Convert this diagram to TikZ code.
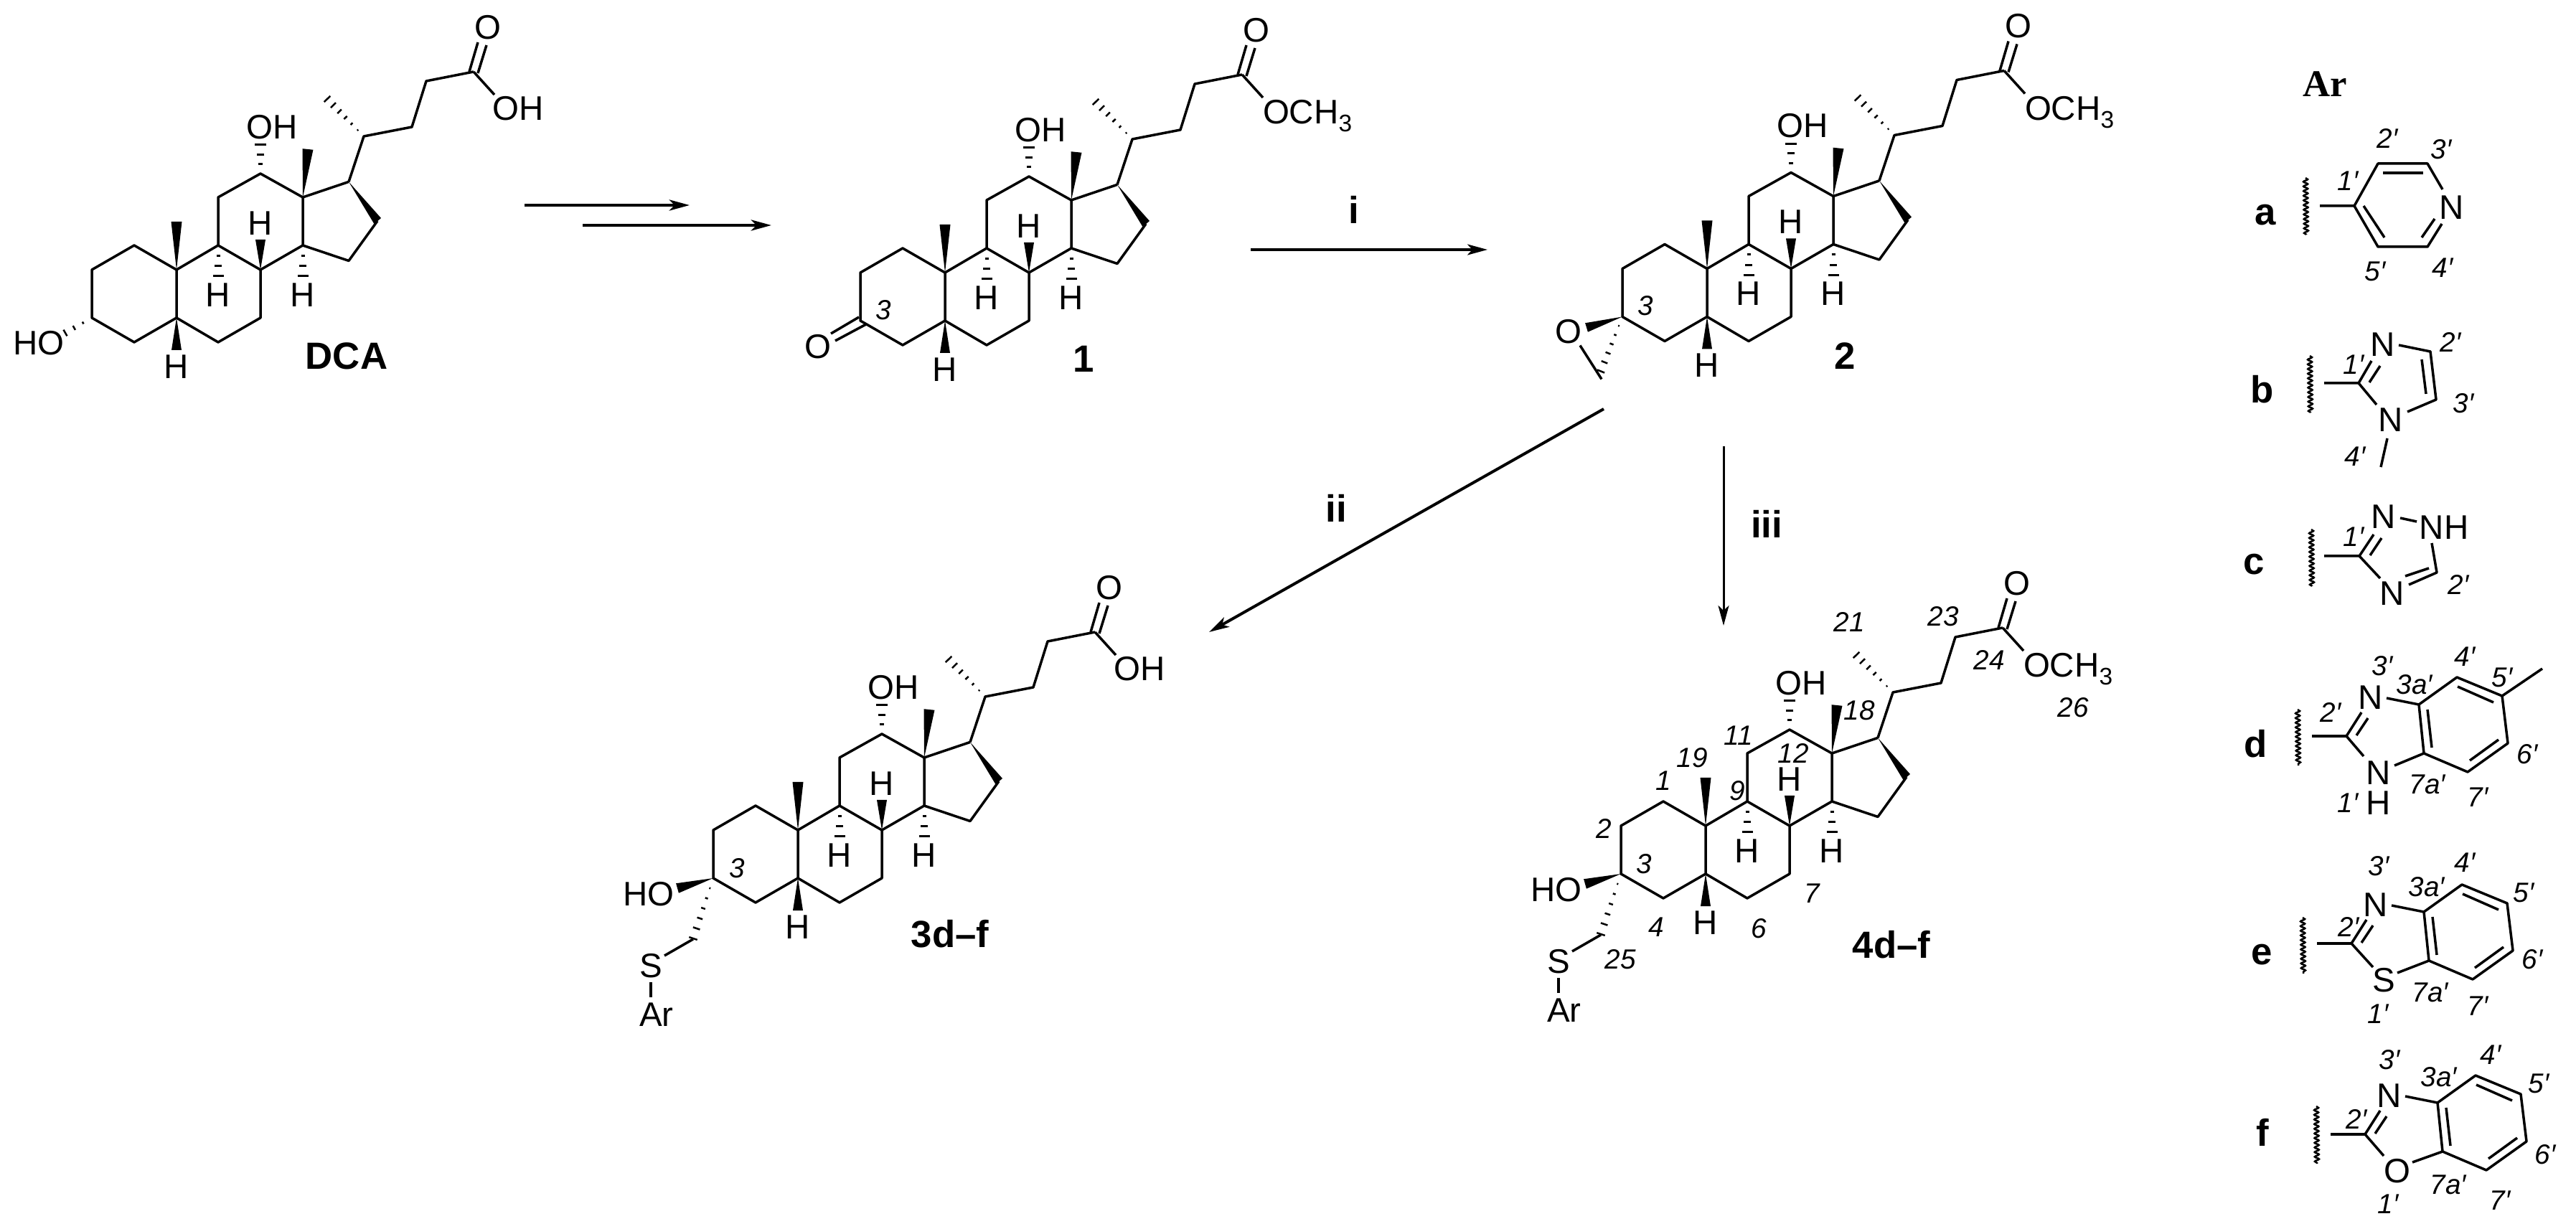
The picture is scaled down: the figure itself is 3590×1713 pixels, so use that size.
\documentclass[tikz,border=0pt]{standalone}
\usepackage{fontspec}
\setmainfont{Liberation Sans}
\newfontfamily\arserif{Liberation Serif}
\usetikzlibrary{arrows.meta,decorations.pathmorphing}
\newcount\labcnt
\newcommand\pr{′}
\tikzset{
  bond/.style={line width=0.035cm,line join=round},
  rxn/.style={line width=0.035cm,-{Stealth[length=0.28cm,width=0.15cm,inset=0.07cm]}},
  atomlab/.style={inner sep=0pt,outer sep=0pt,font=\fontsize{13.5}{13.5}\selectfont},
  numlab/.style={inner sep=0pt,outer sep=0pt,font=\fontsize{11}{11}\selectfont\itshape},
  boldlab/.style={inner sep=0pt,outer sep=0pt,font=\fontsize{15}{15}\selectfont\bfseries},
  wavy/.style={line width=0.025cm,decorate,decoration={snake,amplitude=0.03cm,segment length=0.065cm}}
}
\newcommand\atm[3]{\global\advance\labcnt by 1 \node[atomlab] (a\the\labcnt) at (#1,#2) {#3};}
\newcommand\atmw[3]{\global\advance\labcnt by 1 \node[atomlab,anchor=base west] (a\the\labcnt) at (#1,#2) {#3};}
\newcommand\num[3]{\global\advance\labcnt by 1 \node[numlab] (a\the\labcnt) at (#1,#2) {#3};}
\newcommand\bld[3]{\global\advance\labcnt by 1 \node[boldlab] (a\the\labcnt) at (#1,#2) {#3};}
\newcommand\wdg[5]{%
  \pgfmathsetmacro\wl{veclen(#3-#1,#4-#2)}%
  \pgfmathsetmacro\wnx{-(#4-#2)/\wl*#5/2}%
  \pgfmathsetmacro\wny{(#3-#1)/\wl*#5/2}%
  \fill (#1,#2) -- ({#3+\wnx},{#4+\wny}) -- ({#3-\wnx},{#4-\wny}) -- cycle;}
\newcommand\hsh[7]{%
  \pgfmathsetmacro\wl{veclen(#3-#1,#4-#2)}%
  \foreach \ii in {1,...,#6}{%
    \pgfmathsetmacro\hst{\ii/#6}%
    \pgfmathsetmacro\hx{#1+(#3-#1)*\hst}%
    \pgfmathsetmacro\hy{#2+(#4-#2)*\hst}%
    \pgfmathsetmacro\hnx{-(#4-#2)/\wl*#5/2*\hst}%
    \pgfmathsetmacro\hny{(#3-#1)/\wl*#5/2*\hst}%
    \draw[line width=#7*0.01cm] ({\hx+\hnx},{\hy+\hny}) -- ({\hx-\hnx},{\hy-\hny});}}
\newcommand\ochthree{OCH\raisebox{-3pt}{\fontsize{9.5}{9.5}\selectfont 3}}
% steroid skeleton; origin at C10
\newcommand\skel{%
  \draw[bond] (-118,67)--(-118,0)--(-59,-34)--(0,0)--(0,67)--(-59,101)--cycle;
  \draw[bond] (0,0)--(58,-34)--(117,0)--(117,67)--(58,101)--(0,67);
  \draw[bond] (58,-34)--(58,-101)--(117,-134)--(176,-101)--(176,-34)--(117,0);
  \draw[bond] (176,-101)--(240,-122.6);
  \draw[bond] (176,-34)--(240,-12.5)--(280,-68);
  \draw[bond] (240,-122.6)--(261,-186)--(328,-199)--(348,-263)--(414,-276);
  \draw[bond] (408,-276)--(420,-317);
  \draw[bond] (420,-274)--(432,-313);
  \draw[bond] (414,-276)--(443,-244);
  \atm{434}{-338}{O}
  \fill (240,-122.6)--(285,-72)--(275.5,-63.8)--cycle;
  \wdg{176}{-101}{183}{-168}{15}
  \wdg{0}{0}{0}{-67}{15}
  \wdg{117}{0}{117}{-42}{14}
  \atm{117}{-65}{H}
  \hsh{58}{-34}{58}{9}{15}{3}{3}
  \atm{58}{35}{H}
  \hsh{176}{-34}{176}{9}{15}{3}{3}
  \atm{176}{35}{H}
  \wdg{0}{67}{0}{112}{14}
  \atm{0}{135}{H}
  \hsh{117}{-134}{117}{-174}{16}{3}{3}
  \atm{133}{-199}{OH}
  \hsh{261}{-186}{210}{-238}{12}{6}{2.5}
}
\newcommand\acid{\atm{476}{-225}{OH}}
\newcommand\ester{\atmw{443}{-207}{\ochthree}}
\newcommand\sar{%
  \atm{-208}{89}{HO}
  \wdg{-118}{67}{-168}{81}{14}
  \hsh{-118}{67}{-146}{151}{12}{6}{2.5}
  \draw[bond] (-146,152)--(-186,175);
  \atm{-205}{189}{S}
  \draw[bond] (-205,212)--(-205,233);
  \atm{-197}{257}{Ar}
}
% benzazole common part, coordinates of compound d
\newcommand\benz[8]{%
  \begin{scope}[shift={(#1,#2)}]
  \draw[bond] (3222,1026)--(3270,1026);
  \draw[bond] (3270,1026)--(3291,993);
  \draw[bond] (3284,1025)--(3300,1001);
  \atm{3304}{972}{N}
  \draw[bond] (3326,973)--(3371,982);
  \draw[bond] (3371,982)--(3424,944)--(3487,970)--(3495,1036)--(3439,1076)--(3378,1050)--cycle;
  \draw[bond] (3425,957)--(3475,979);
  \draw[bond] (3482,1031)--(3442,1060);
  \draw[bond] (3389,1042)--(3383,989);
  \draw[bond] (3270,1026)--(#4,#5);
  \draw[bond] (#6,#7)--(3378,1050);
  \atm{3315}{1077}{#3}
  #8
  \end{scope}}
\begin{document}
\begin{tikzpicture}[x=0.01cm,y=-0.01cm]
\fill[white] (0,0) rectangle (3590,1713);
\path[use as bounding box] (0,0) rectangle (3590,1713);
% DCA
\begin{scope}[shift={(246,376)}]
  \skel \acid
  \atm{-192}{102}{HO}
  \hsh{-118}{67}{-155}{88}{10}{3}{2.5}
\end{scope}
\bld{483}{496}{DCA}
% 1
\begin{scope}[shift={(1317,380)}]
  \skel \ester
  \draw[bond] (-120,62)--(-159,85);
  \draw[bond] (-110,72)--(-153,95);
  \atm{-177}{103}{O}
  \num{-86}{52}{3}
\end{scope}
\bld{1510}{500}{1}
% 2
\begin{scope}[shift={(2379,374.5)}]
  \skel \ester
  \atm{-193}{88}{O}
  \wdg{-118}{67}{-168}{82}{13}
  \hsh{-118}{67}{-148}{143}{11}{6}{2.5}
  \draw[bond] (-177,107)--(-147,154);
  \num{-86}{52}{3}
\end{scope}
\bld{2571}{496}{2}
% 3d-f
\begin{scope}[shift={(1112,1157)}]
  \skel \acid \sar
  \num{-85}{53}{3}
\end{scope}
\bld{1324}{1302}{3d–f}
% 4d-f
\begin{scope}[shift={(2377,1151)}]
  \skel \ester \sar
\end{scope}
\bld{2636}{1317}{4d–f}
\num{2577}{867}{21}
\num{2708}{859}{23}
\num{2772}{920}{24}
\num{2889}{986}{26}
\num{2591}{990}{18}
\num{2423}{1025}{11}
\num{2358}{1056}{19}
\num{2499}{1050}{12}
\num{2318}{1088}{1}
\num{2421}{1102}{9}
\num{2235}{1155}{2}
\num{2291}{1204}{3}
\num{2525}{1245}{7}
\num{2308}{1292}{4}
\num{2451}{1294}{6}
\num{2258}{1337}{25}
% arrows
\coordinate (r1a) at (731,286); \coordinate (r1b) at (961,286);
\coordinate (r2a) at (812,314); \coordinate (r2b) at (1075,314);
\coordinate (r3a) at (1743,348); \coordinate (r3b) at (2073,348);
\coordinate (r4a) at (2235,570); \coordinate (r4b) at (1685,881);
\coordinate (r5a) at (2402,622); \coordinate (r5b) at (2402,872);
\draw[rxn,line width=0.042cm] (r1a)--(r1b);
\draw[rxn,line width=0.042cm] (r2a)--(r2b);
\draw[rxn] (r3a)--(r3b);
\draw[rxn,line width=0.04cm] (r4a)--(r4b);
\draw[rxn,line width=0.03cm] (r5a)--(r5b);
\bld{1887}{292}{i}
\bld{1862}{708}{ii}
\bld{2462}{730}{iii}
% Ar column
\node[boldlab,font=\fontsize{15}{15}\selectfont\arserif\bfseries] (arhead) at (3240,117) {Ar};
% a
\bld{3157}{300}{a}
\draw[wavy] (3213,248)--(3214,327);
\draw[bond] (3233,287)--(3281,287)--(3314,228)--(3383,228)--(3404,264);
\draw[bond] (3281,287)--(3314,344)--(3383,344)--(3403,312);
\draw[bond] (3321,241)--(3377,241);
\draw[bond] (3294,287)--(3323,331);
\draw[bond] (3375,331)--(3393,305);
\atm{3417}{289}{N}
\num{3272}{252}{1\pr}
\num{3327}{193}{2\pr}
\num{3402}{208}{3\pr}
\num{3310}{378}{5\pr}
\num{3404}{373}{4\pr}
% b
\bld{3153}{543}{b}
\draw[wavy] (3219,496)--(3220,575);
\draw[bond] (3239,534)--(3287,534)--(3305,503);
\draw[bond] (3302,533)--(3317,510);
\atm{3321}{480}{N}
\draw[bond] (3343,481)--(3387,490)--(3395,557)--(3355,574);
\draw[bond] (3375,501)--(3381,549);
\draw[bond] (3287,534)--(3312,564);
\atm{3332}{585}{N}
\draw[bond] (3327,611)--(3318,651);
\num{3280}{508}{1\pr}
\num{3415}{477}{2\pr}
\num{3433}{562}{3\pr}
\num{3282}{636}{4\pr}
% c
\bld{3141}{787}{c}
\draw[wavy] (3221,738)--(3222,817);
\draw[bond] (3239,775)--(3288,775)--(3308,745);
\draw[bond] (3303,774)--(3319,750);
\atm{3322}{720}{N}
\draw[bond] (3345,722)--(3368,727);
\atm{3406}{735}{NH}
\draw[bond] (3389,757)--(3396,798)--(3357,815);
\draw[bond] (3352,803)--(3385,792);
\draw[bond] (3288,775)--(3317,806);
\atm{3334}{827}{N}
\num{3280}{748}{1\pr}
\num{3426}{815}{2\pr}
% d
\bld{3144}{1037}{d}
\draw[wavy] (3202,989)--(3203,1067);
\benz{0}{0}{N}{3294}{1054}{3337}{1067}{\atm{3315}{1119}{H}\draw[bond] (3487,970)--(3543,932);}
\num{3320}{928}{3\pr}
\num{3365}{954}{3a\pr}
\num{3435}{915}{4\pr}
\num{3487}{944}{5\pr}
\num{3248}{993}{2\pr}
\num{3522}{1051}{6\pr}
\num{3383}{1093}{7a\pr}
\num{3453}{1111}{7\pr}
\num{3272}{1119}{1\pr}
% e
\bld{3152}{1331}{e}
\draw[wavy] (3209,1279)--(3210,1357);
\benz{7}{289}{S}{3300}{1059}{3334}{1067}{}
\num{3315}{1207}{3\pr}
\num{3382}{1236}{3a\pr}
\num{3435}{1202}{4\pr}
\num{3517}{1244}{5\pr}
\num{3273}{1292}{2\pr}
\num{3529}{1337}{6\pr}
\num{3387}{1383}{7a\pr}
\num{3453}{1402}{7\pr}
\num{3314}{1413}{1\pr}
% f
\bld{3153}{1578}{f}
\draw[wavy] (3228,1542)--(3229,1622);
\benz{26}{555}{O}{3296}{1056}{3336}{1065}{}
\num{3330}{1477}{3\pr}
\num{3399}{1501}{3a\pr}
\num{3471}{1470}{4\pr}
\num{3538}{1510}{5\pr}
\num{3284}{1560}{2\pr}
\num{3547}{1609}{6\pr}
\num{3412}{1651}{7a\pr}
\num{3484}{1673}{7\pr}
\num{3328}{1678}{1\pr}
\end{tikzpicture}
\end{document}
